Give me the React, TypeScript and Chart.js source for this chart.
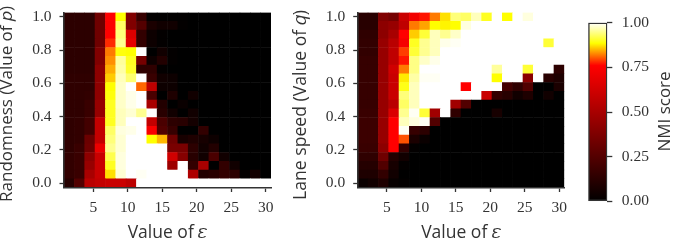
import React, { useEffect, useRef } from "react";
import { Chart, registerables } from "chart.js";

Chart.register(...registerables);

// Column centres: value of epsilon
const epsilons = [1.5, 3, 4.5, 6, 7.5, 9, 10.5, 12, 13.5, 15, 16.5, 18, 19.5, 21, 22.5, 24, 25.5, 27, 28.5, 30];
// Row centres, bottom to top
const rowValues = [0, 0.0526, 0.1053, 0.1579, 0.2105, 0.2632, 0.3158, 0.3684, 0.4211, 0.4737, 0.5263, 0.5789, 0.6316, 0.6842, 0.7368, 0.7895, 0.8421, 0.8947, 0.9474, 1];

const xTicks = [5, 10, 15, 20, 25, 30];
const yTicks = [0, 0.2, 0.4, 0.6, 0.8, 1];
const barTicks = [0, 0.25, 0.5, 0.75, 1];

// NMI scores, rows listed top (1.0) to bottom (0.0)
const randomnessScores = [
  [.13, .13, .13, .33, .76, .885, .38, .16, .01, .005, .005, .005, 0, 0, 0, 0, 0, 0, 0, 0],
  [.13, .13, .13, .33, .75, .93, .38, .25, .08, .05, .05, .01, 0, 0, 0, 0, 0, 0, 0, 0],
  [.13, .13, .13, .33, .76, .94, .65, .15, .04, .01, 0, 0, 0, 0, 0, 0, 0, 0, 0, 0],
  [.13, .13, .13, .33, .78, .95, .68, .15, .04, .01, 0, 0, 0, 0, 0, 0, 0, 0, 0, 0],
  [.13, .13, .13, .38, .82, .89, .885, 1, 0, .05, .01, 0, 0, 0, 0, 0, 0, 0, 0, 0],
  [.13, .13, .13, .38, .83, .955, .90, .35, .04, .1, .01, 0, 0, 0, 0, 0, 0, 0, 0, 0],
  [.13, .13, .13, .42, .845, .96, .905, .14, .14, .01, 0, 0, 0, 0, 0, 0, 0, 0, 0, 0],
  [.14, .14, .14, .42, .86, .97, .935, 1, .17, .05, .04, 0, 0, 0, 0, 0, 0, 0, 0, 0],
  [.14, .14, .14, .42, .885, .975, 1, .81, .57, .04, .04, 0, 0, 0, 0, 0, 0, 0, 0, 0],
  [.14, .14, .15, .42, .89, .975, .99, 1, .22, 0, .09, 0, .05, 0, 0, 0, 0, 0, 0, 0],
  [.14, .14, .17, .45, .90, .975, .99, 1, .5, .1, 0, .03, 0, 0, 0, 0, 0, 0, 0, 0],
  [.14, .14, .17, .45, .90, .97, .98, .95, 1, .12, .05, 0, .05, 0, 0, 0, 0, 0, 0, 0],
  [.14, .15, .2, .58, .90, .97, 1, 1, .58, .22, .13, .12, .06, 0, 0, 0, 0, 0, 0, 0],
  [.14, .15, .2, .58, .93, .985, .99, 1, .74, .24, .16, 0, 0, .15, 0, 0, 0, 0, 0, 0],
  [.14, .15, .32, .58, .94, .98, 1, 1, .885, .85, .33, .07, .09, .07, .04, 0, 0, 0, 0, 0],
  [.14, .17, .33, .7, .95, .98, 1, 1, 1, 1, .36, .36, .13, .05, .1, 0, 0, 0, 0, 0],
  [.15, .17, .42, .6, .92, .985, 1, 1, 1, 1, .62, .4, .12, .05, .22, .05, 0, 0, 0, 0],
  [.15, .17, .45, .6, .90, .985, 1, 1, 1, 1, .47, 1, .15, .5, 0, .15, .05, 0, 0, 0],
  [.15, .17, .5, .6, .87, .98, 1, .995, 1, 1, 1, 1, .52, .1, .12, .15, .13, .01, .06, 0],
  [.11, .24, .55, .58, .6, .6, .56, 1, 1, 1, 1, 1, 1, 1, 1, 1, 1, 1, 1, 1],
];

const laneSpeedScores = [
  [.12, .12, .38, .35, .6, .72, .77, .82, .87, .94, .93, .97, .90, 1, .885, 1, .985, 1, 1, 1],
  [.12, .12, .42, .45, .57, .82, .84, .885, .88, .885, .985, 1, 1, 1, 1, 1, 1, 1, 1, 1],
  [.14, .14, .42, .5, .76, .86, .91, .97, .95, .975, 1, 1, 1, 1, 1, 1, 1, 1, 1, 1],
  [.15, .15, .45, .55, .73, .90, .95, .97, .99, .995, 1, 1, 1, 1, 1, 1, 1, 1, .91, 1],
  [.15, .15, .45, .57, .79, .91, .95, .97, 1, 1, 1, 1, 1, 1, 1, 1, 1, 1, 1, 1],
  [.16, .16, .45, .57, .77, .945, .975, .99, 1, 1, 1, 1, 1, 1, 1, 1, 1, 1, 1, 1],
  [.16, .16, .45, .62, .82, .945, 1, 1, 1, 1, 1, 1, 1, .955, 1, 1, .91, 1, 1, .13],
  [.16, .16, .45, .6, .875, .96, .995, .995, 1, 1, 1, 1, 1, .885, 1, 1, .41, 1, .12, .09],
  [.16, .16, .45, .6, .895, .97, 1, 1, 1, 1, .76, 1, 1, 1, .2, .14, .24, 0, 0, .08],
  [.16, .16, .45, .6, .94, .97, 1, 1, 1, 1, 1, 1, .6, .15, .12, .05, .09, 0, .05, 0],
  [.16, .16, .45, .55, .93, .97, 1, 1, 1, .48, .24, 0, 0, 0, 0, 0, 0, 0, 0, 0],
  [.17, .17, .45, .65, .95, .995, .91, .48, 1, .14, 0, 0, 0, .07, 0, 0, 0, 0, 0, 0],
  [.18, .18, .45, .76, .97, .985, .995, .24, 0, 0, 0, 0, 0, 0, 0, 0, 0, 0, 0, 0],
  [.18, .18, .45, .76, .995, .16, .13, 0, 0, 0, 0, 0, 0, 0, 0, 0, 0, 0, 0, 0],
  [.18, .18, .45, .76, .80, .08, .03, 0, 0, 0, 0, 0, 0, 0, 0, 0, 0, 0, 0, 0],
  [.17, .17, .42, .76, .15, .01, 0, 0, 0, 0, 0, 0, 0, 0, 0, 0, 0, 0, 0, 0],
  [.14, .14, .33, .1, .05, 0, 0, 0, 0, 0, 0, 0, 0, 0, 0, 0, 0, 0, 0, 0],
  [.11, .11, .24, .07, .01, 0, 0, 0, 0, 0, 0, 0, 0, 0, 0, 0, 0, 0, 0, 0],
  [.09, .09, .15, .05, 0, 0, 0, 0, 0, 0, 0, 0, 0, 0, 0, 0, 0, 0, 0, 0],
  [.03, .05, .09, .02, .01, 0, 0, 0, 0, 0, 0, 0, 0, 0, 0, 0, 0, 0, 0, 0],
];

// Colormap stops: [score, r, g, b]
const cmapStops: number[][] = [
  [0, 0, 0, 0],
  [0.76, 255, 0, 0],
  [0.885, 255, 255, 0],
  [1, 255, 255, 255],
];

const INK = "#333333";
const TICK_FONT = { family: "'Liberation Serif', serif", size: 15.5 };
const SANS = "'Open Sans', sans-serif";

function cmap(v: number): string {
  for (let i = 1; i < cmapStops.length; i++) {
    const a = cmapStops[i - 1];
    const b = cmapStops[i];
    if (v <= b[0]) {
      const t = (v - a[0]) / (b[0] - a[0]);
      const c = [1, 2, 3].map((k) => Math.round(a[k] + (b[k] - a[k]) * t));
      return `rgb(${c[0]},${c[1]},${c[2]})`;
    }
  }
  return "rgb(255,255,255)";
}

const rowStep = 1 / 19;
const colStep = 1.5;

function fixedSize(width?: number, height?: number) {
  return (scale: any) => {
    if (width !== undefined) scale.width = width;
    if (height !== undefined) scale.height = height;
    scale.paddingLeft = scale.paddingRight = scale.paddingTop = scale.paddingBottom = 0;
  };
}

function rotatedLabel(text: string, baselineX: number, centerY: number, size: number) {
  return {
    id: "rotatedLabel",
    afterDraw(chart: any) {
      const { ctx } = chart;
      ctx.save();
      ctx.translate(baselineX, centerY);
      ctx.rotate(-Math.PI / 2);
      ctx.textAlign = "center";
      ctx.textBaseline = "alphabetic";
      ctx.fillStyle = INK;
      ctx.font = `${size}px ${SANS}`;
      ctx.fillText(text, 0, 0);
      ctx.restore();
    },
  };
}

function heatConfig(rowsTopDown: number[][], label: any, left: number, right: number): any {
  const rowsBottomUp = [...rowsTopDown].reverse();
  const grid = { drawOnChartArea: false, drawTicks: true, tickLength: 4.5, tickWidth: 1.3, tickColor: INK, color: INK, offset: false };
  const border = { display: true, color: INK, width: 1.6, z: 1 };
  return {
    type: "bar",
    data: {
      datasets: rowsBottomUp.map((scores, r) => ({
        label: `row ${rowValues[r]}`,
        data: scores.map((_, c) => ({
          x: epsilons[c],
          y: [rowValues[r] - rowStep / 2, rowValues[r] + rowStep / 2],
        })),
        backgroundColor: scores.map(cmap),
        borderWidth: 0,
        inflateAmount: 0.3,
        grouped: false,
        barPercentage: 1,
        categoryPercentage: 1,
      })),
    },
    options: {
      animation: false,
      responsive: false,
      maintainAspectRatio: false,
      layout: { autoPadding: false, padding: { left: 0, right, top: 12.5, bottom: 0 } },
      plugins: { legend: { display: false }, tooltip: { enabled: false } },
      scales: {
        x: {
          type: "linear",
          offset: false,
          min: epsilons[0] - colStep / 2,
          max: epsilons[epsilons.length - 1] + colStep / 2,
          afterBuildTicks: (s: any) => {
            s.ticks = xTicks.map((value) => ({ value }));
          },
          afterFit: fixedSize(undefined, 56.5),
          ticks: { color: INK, font: TICK_FONT, maxRotation: 0, padding: 7, autoSkip: false, callback: (v: number) => String(v) },
          title: { display: true, text: "Value of 𝜀", color: INK, font: { family: SANS, size: 17.5 }, padding: { top: 0, bottom: 0 } },
          grid,
          border,
        },
        y: {
          type: "linear",
          min: -rowStep / 2,
          max: 1 + rowStep / 2,
          afterBuildTicks: (s: any) => {
            s.ticks = yTicks.map((value) => ({ value }));
          },
          afterFit: fixedSize(left),
          ticks: { color: INK, font: TICK_FONT, padding: 8, autoSkip: false, callback: (v: number) => v.toFixed(1) },
          grid,
          border,
        },
      },
    },
    plugins: [label],
  };
}

function colorbarConfig(): any {
  return {
    type: "bar",
    data: {
      labels: ["NMI score"],
      datasets: [
        {
          data: [[0, 1]],
          backgroundColor: (ctx: any) => {
            const area = ctx.chart.chartArea;
            if (!area) return "#000";
            const g = ctx.chart.ctx.createLinearGradient(0, area.bottom, 0, area.top);
            cmapStops.forEach((s) => g.addColorStop(s[0], `rgb(${s[1]},${s[2]},${s[3]})`));
            return g;
          },
          borderColor: INK,
          borderWidth: 1.6,
          borderSkipped: false,
          barPercentage: 1,
          categoryPercentage: 1,
        },
      ],
    },
    options: {
      animation: false,
      responsive: false,
      maintainAspectRatio: false,
      layout: { autoPadding: false, padding: { left: 18.3, right: 0, top: 22.7, bottom: 42.7 } },
      plugins: { legend: { display: false }, tooltip: { enabled: false } },
      scales: {
        x: { display: false },
        y: {
          position: "right",
          min: 0,
          max: 1,
          afterBuildTicks: (s: any) => {
            s.ticks = barTicks.map((value) => ({ value }));
          },
          afterFit: fixedSize(69.7),
          border: { display: false },
          grid: { drawOnChartArea: false, drawTicks: true, tickLength: 5, tickWidth: 1.3, tickColor: INK, color: INK },
          ticks: { color: INK, font: TICK_FONT, padding: 9.5, autoSkip: false, callback: (v: number) => v.toFixed(2) },
        },
      },
    },
    plugins: [rotatedLabel("NMI score", 100, 111.5, 17)],
  };
}

const canvasStyle = (left: number, width: number): React.CSSProperties => ({
  position: "absolute",
  left,
  top: 0,
  width,
  height: 244,
  display: "block",
});

export default function App() {
  const a = useRef<HTMLCanvasElement>(null);
  const b = useRef<HTMLCanvasElement>(null);
  const c = useRef<HTMLCanvasElement>(null);
  useEffect(() => {
    const charts = [
      new Chart(a.current!, heatConfig(randomnessScores, rotatedLabel("Randomness (Value of 𝑝)", 11.7, 104, 17), 64, 19)),
      new Chart(b.current!, heatConfig(laneSpeedScores, rotatedLabel("Lane speed (Value of 𝑞)", 15.7, 105, 17.6), 67.7, 15.7)),
      new Chart(c.current!, colorbarConfig()),
    ];
    return () => charts.forEach((ch) => ch.destroy());
  }, []);
  return (
    <div>
      <canvas ref={a} width={290} height={244} style={canvasStyle(0, 290)} />
      <canvas ref={b} width={290} height={244} style={canvasStyle(290, 290)} />
      <canvas ref={c} width={107} height={244} style={canvasStyle(570, 107)} />
    </div>
  );
}
